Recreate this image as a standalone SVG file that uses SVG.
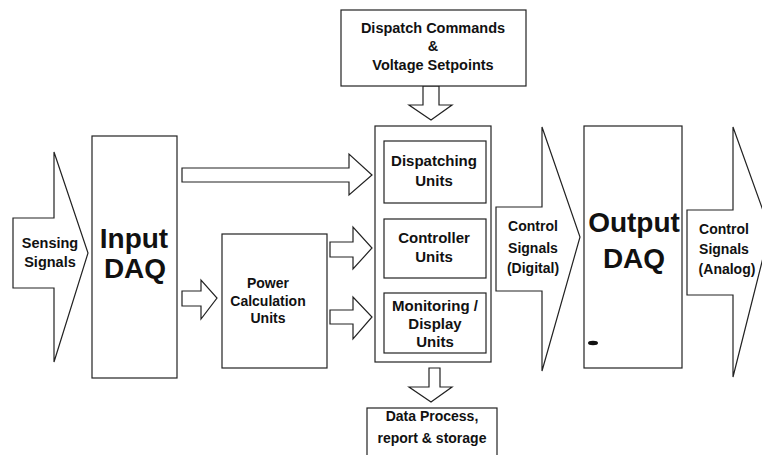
<svg xmlns="http://www.w3.org/2000/svg" width="762" height="455" viewBox="0 0 762 455">
<style>
.s{fill:#fff;stroke:#222;stroke-width:1.2}
.t{font-family:"Liberation Sans",Arial,sans-serif;font-weight:bold;fill:#111;text-anchor:middle}
.m{font-size:14.5px}
.b{font-size:28px}
</style>
<rect width="762" height="455" fill="#fff"/>
<g id="connectors">
<polygon class="s" points="182,168 349,168 349,154 372,175 349,195 349,182 182,182"/>
<polygon class="s" points="182,291 201,291 201,280 217,298 201,319 201,306 182,306"/>
<polygon class="s" points="330,242 353,242 353,227 372,248 353,269 353,257 330,257"/>
<polygon class="s" points="330,310 353,310 353,297 372,317 353,339 353,324 330,324"/>
<polygon class="s" points="423,86 439,86 439,105 452,105 431,120 409,105 423,105"/>
<polygon class="s" points="429,368 440,368 440,387 452,387 431,402 409,387 429,387"/>
</g>
<g id="sensing">
<polygon class="s" points="13,218 54,218 54,152 88,253 54,362 54,288 13,288"/>
<text class="t m" x="50" y="248">Sensing</text>
<text class="t m" x="50" y="267">Signals</text>
</g>
<g id="input-daq">
<rect class="s" x="92" y="136" width="85" height="242"/>
<text class="t b" x="134" y="248">Input</text>
<text class="t b" x="135" y="278">DAQ</text>
</g>
<g id="dispatch-commands">
<rect class="s" x="341" y="10" width="185" height="76"/>
<text class="t" font-size="14.5" x="433" y="33">Dispatch Commands</text>
<text class="t" font-size="14.5" x="433" y="51">&amp;</text>
<text class="t" font-size="14.5" x="433" y="70">Voltage Setpoints</text>
</g>
<g id="power-calc">
<rect class="s" x="222" y="234" width="105" height="134"/>
<text class="t" font-size="14" x="268" y="288">Power</text>
<text class="t" font-size="14" x="278" y="306" dx="-10">Calculation</text>
<text class="t" font-size="14" x="268" y="323">Units</text>
</g>
<g id="container">
<rect class="s" x="375" y="126" width="116" height="236"/>
</g>
<g id="dispatching">
<rect class="s" x="384" y="141" width="102" height="62"/>
<text class="t" font-size="15" x="434" y="166">Dispatching</text>
<text class="t" font-size="15" x="434" y="186">Units</text>
</g>
<g id="controller">
<rect class="s" x="384" y="219" width="102" height="59"/>
<text class="t" font-size="15" x="434" y="243">Controller</text>
<text class="t" font-size="15" x="434" y="262">Units</text>
</g>
<g id="monitoring">
<rect class="s" x="384" y="293" width="102" height="60"/>
<text class="t" font-size="15" x="435" y="311">Monitoring /</text>
<text class="t" font-size="15" x="435" y="329">Display</text>
<text class="t" font-size="15" x="435" y="347">Units</text>
</g>
<g id="data-process">
<rect class="s" x="367" y="408" width="130" height="52"/>
<text class="t" font-size="14" x="432" y="421">Data Process,</text>
<text class="t" font-size="14" x="432" y="443">report &amp; storage</text>
</g>
<g id="control-digital">
<polygon class="s" points="496,207 542,207 542,127 580,237 542,371 542,291 496,291"/>
<text class="t" font-size="14" x="533" y="231">Control</text>
<text class="t" font-size="14" x="533" y="253">Signals</text>
<text class="t" font-size="14" x="533" y="273">(Digital)</text>
</g>
<g id="output-daq">
<rect class="s" x="584" y="126" width="98" height="242"/>
<text class="t b" x="634" y="232">Output</text>
<text class="t b" x="634" y="268">DAQ</text>
<ellipse cx="593" cy="343" rx="5" ry="2.2" fill="#111"/>
</g>
<g id="control-analog">
<polygon class="s" points="687,210 733,210 733,127 770,230 733,377 733,295 687,295"/>
<text class="t" font-size="14" x="724" y="234">Control</text>
<text class="t" font-size="14" x="724" y="254">Signals</text>
<text class="t" font-size="14" x="727" y="274">(Analog)</text>
</g>
</svg>
